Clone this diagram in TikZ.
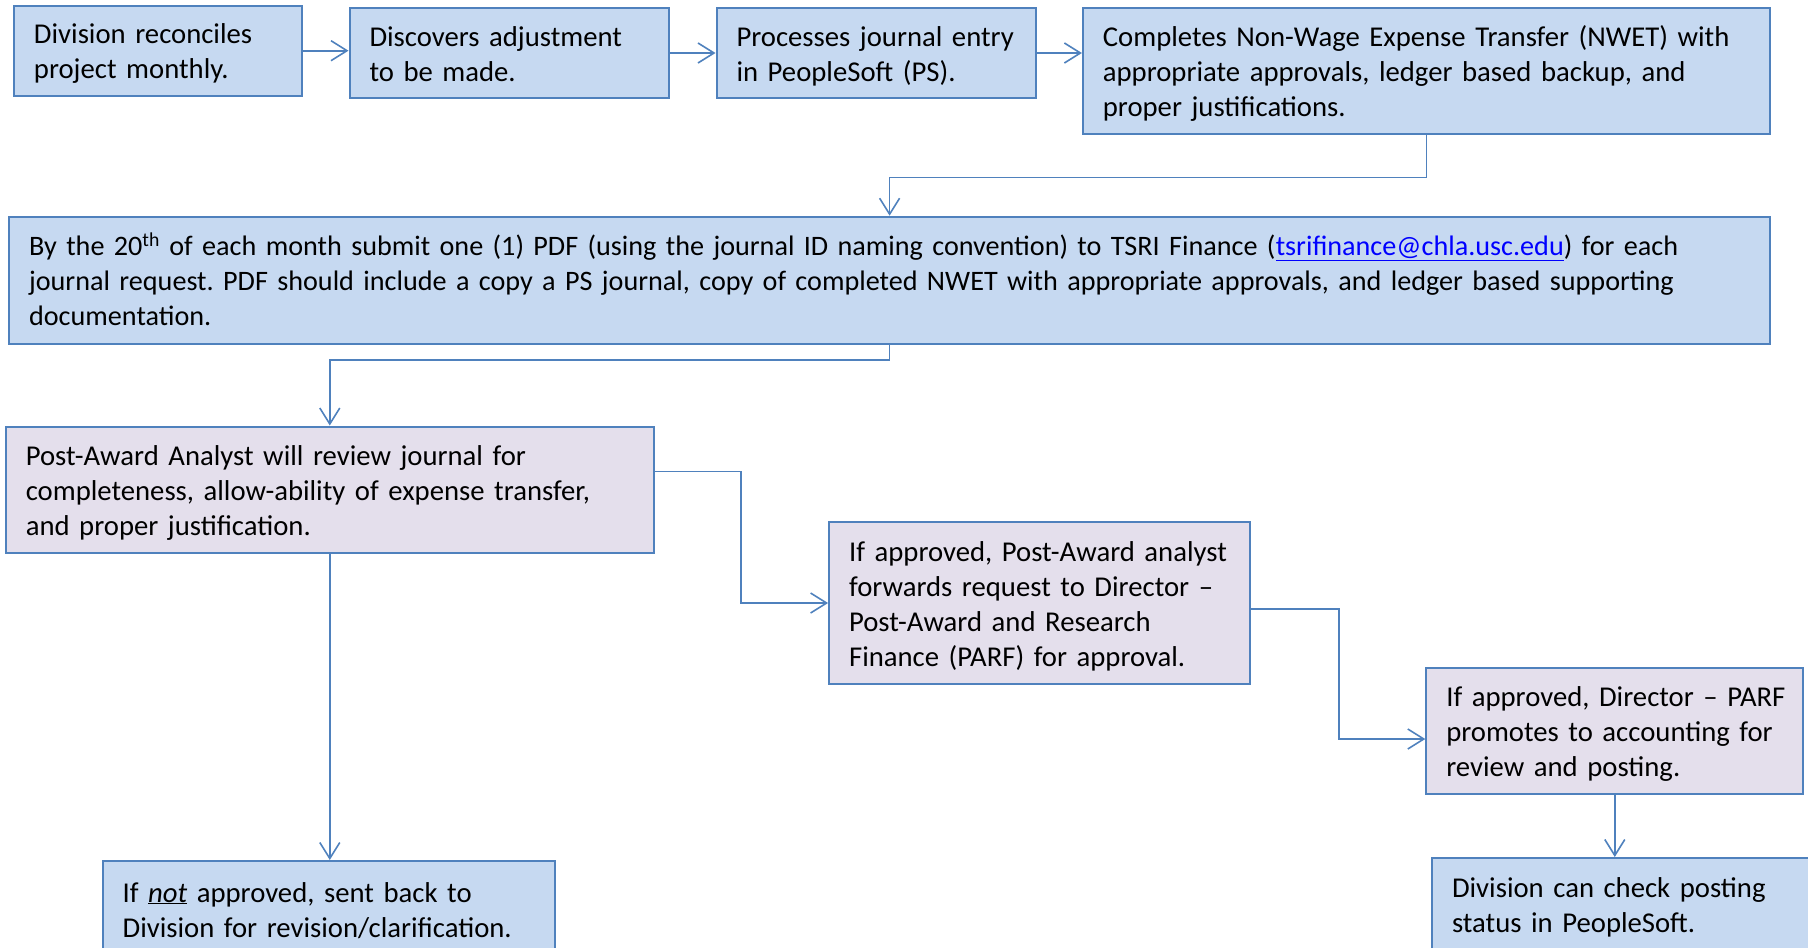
\documentclass[tikz,border=0pt]{standalone}
\usepackage{fontspec}
\setmainfont{Carlito}
\usetikzlibrary{arrows.meta,calc}
\definecolor{bfill}{HTML}{C6D9F1}
\definecolor{pfill}{HTML}{E4DFEC}
\definecolor{edgeblue}{HTML}{4F81BD}
\definecolor{linkblue}{HTML}{0000FF}
\frenchspacing
\begin{document}
\begin{tikzpicture}[x=1pt,y=-1pt,
  box/.style={draw=edgeblue, line width=2pt, rectangle, inner xsep=20pt, inner ysep=0pt, align=left,
    font=\fontsize{28.7}{35}\selectfont\frenchspacing,
    execute at begin node={\rule{0pt}{28pt}},
    execute at end node={\rule[-7pt]{0pt}{7pt}}},
  bbox/.style={box, fill=bfill},
  pbox/.style={box, fill=pfill},
  conn/.style={draw=edgeblue, line width=1.6pt, -{Straight Barb[length=16pt,width=20pt,line width=1.6pt]}}
]
\useasboundingbox (0,0) rectangle (1808,948);

\node[bbox, text width=248pt, minimum height=90pt] (b1) at (158,50.7) {\mbox{Division reconciles}\\\mbox{project monthly.}};
\node[bbox, text width=279pt, minimum height=90pt] (b2) at (509,53) {\mbox{Discovers adjustment}\\\mbox{to be made.}};
\node[bbox, text width=279pt, minimum height=90pt] (b3) at (876,53) {\mbox{Processes journal entry}\\\mbox{in PeopleSoft (PS).}};
\node[bbox, text width=647pt, minimum height=126pt] (b4) at (1426.4,71) {\mbox{Completes Non-Wage Expense Transfer (NWET) with}\\\mbox{appropriate approvals, ledger based backup, and}\\\mbox{proper justifications.}};
\node[bbox, text width=1721pt, minimum height=127pt, font=\fontsize{28.17}{35}\selectfont\frenchspacing] (b5) at (889.6,280.2) {\mbox{By the 20\textsuperscript{th} of each month submit one (1) PDF (using the journal ID naming convention) to TSRI Finance (\textcolor{linkblue}{\underline{tsrifinance@chla.usc.edu}}) for each}\\\mbox{journal request. PDF should include a copy a PS journal, copy of completed NWET with appropriate approvals, and ledger based supporting}\\\mbox{documentation.}};
\node[pbox, text width=608pt, minimum height=126pt] (b6) at (329.8,489.5) {\mbox{Post-Award Analyst will review journal for}\\\mbox{completeness, allow-ability of expense transfer,}\\\mbox{and proper justification.}};
\node[pbox, text width=381pt, minimum height=161.5pt] (b7) at (1039.6,603) {\mbox{If approved, Post-Award analyst}\\\mbox{forwards request to Director –}\\\mbox{Post-Award and Research}\\\mbox{Finance (PARF) for approval.}};
\node[pbox, text width=337pt, minimum height=126pt] (b8) at (1614.8,730.5) {\mbox{If approved, Director – PARF}\\\mbox{promotes to accounting for}\\\mbox{review and posting.}};
\node[bbox, text width=358pt, minimum height=92pt] (b9) at (1631,904) {\mbox{Division can check posting}\\\mbox{status in PeopleSoft.}};
\node[bbox, text width=412pt, minimum height=96pt] (b10) at (328.6,909) {\mbox{If \underline{\textit{not}} approved, sent back to}\\\mbox{Division for revision/clarification.}};

\draw[conn] (b1.east) -- (b1.east -| b2.west);
\draw[conn] (b2.east) -- (b2.east -| b3.west);
\draw[conn] (b3.east) -- (b3.east -| b4.west);
\draw[conn] (b4.south) -- ++(0,42.5) -| (b5.north);
\draw[conn] (b5.south) -- ++(0,15) -| (b6.north);
\draw[conn] ([yshift=18pt]b6.east) -- ++(86,0) |- (b7.west);
\draw[conn] ([yshift=-6pt]b7.east) -- ++(88,0) |- ([yshift=-8.5pt]b8.west);
\draw[conn] (b8.south) -- (b8.south |- b9.north);
\draw[conn] (b6.south) -- (b6.south |- b10.north);
\end{tikzpicture}
\end{document}
